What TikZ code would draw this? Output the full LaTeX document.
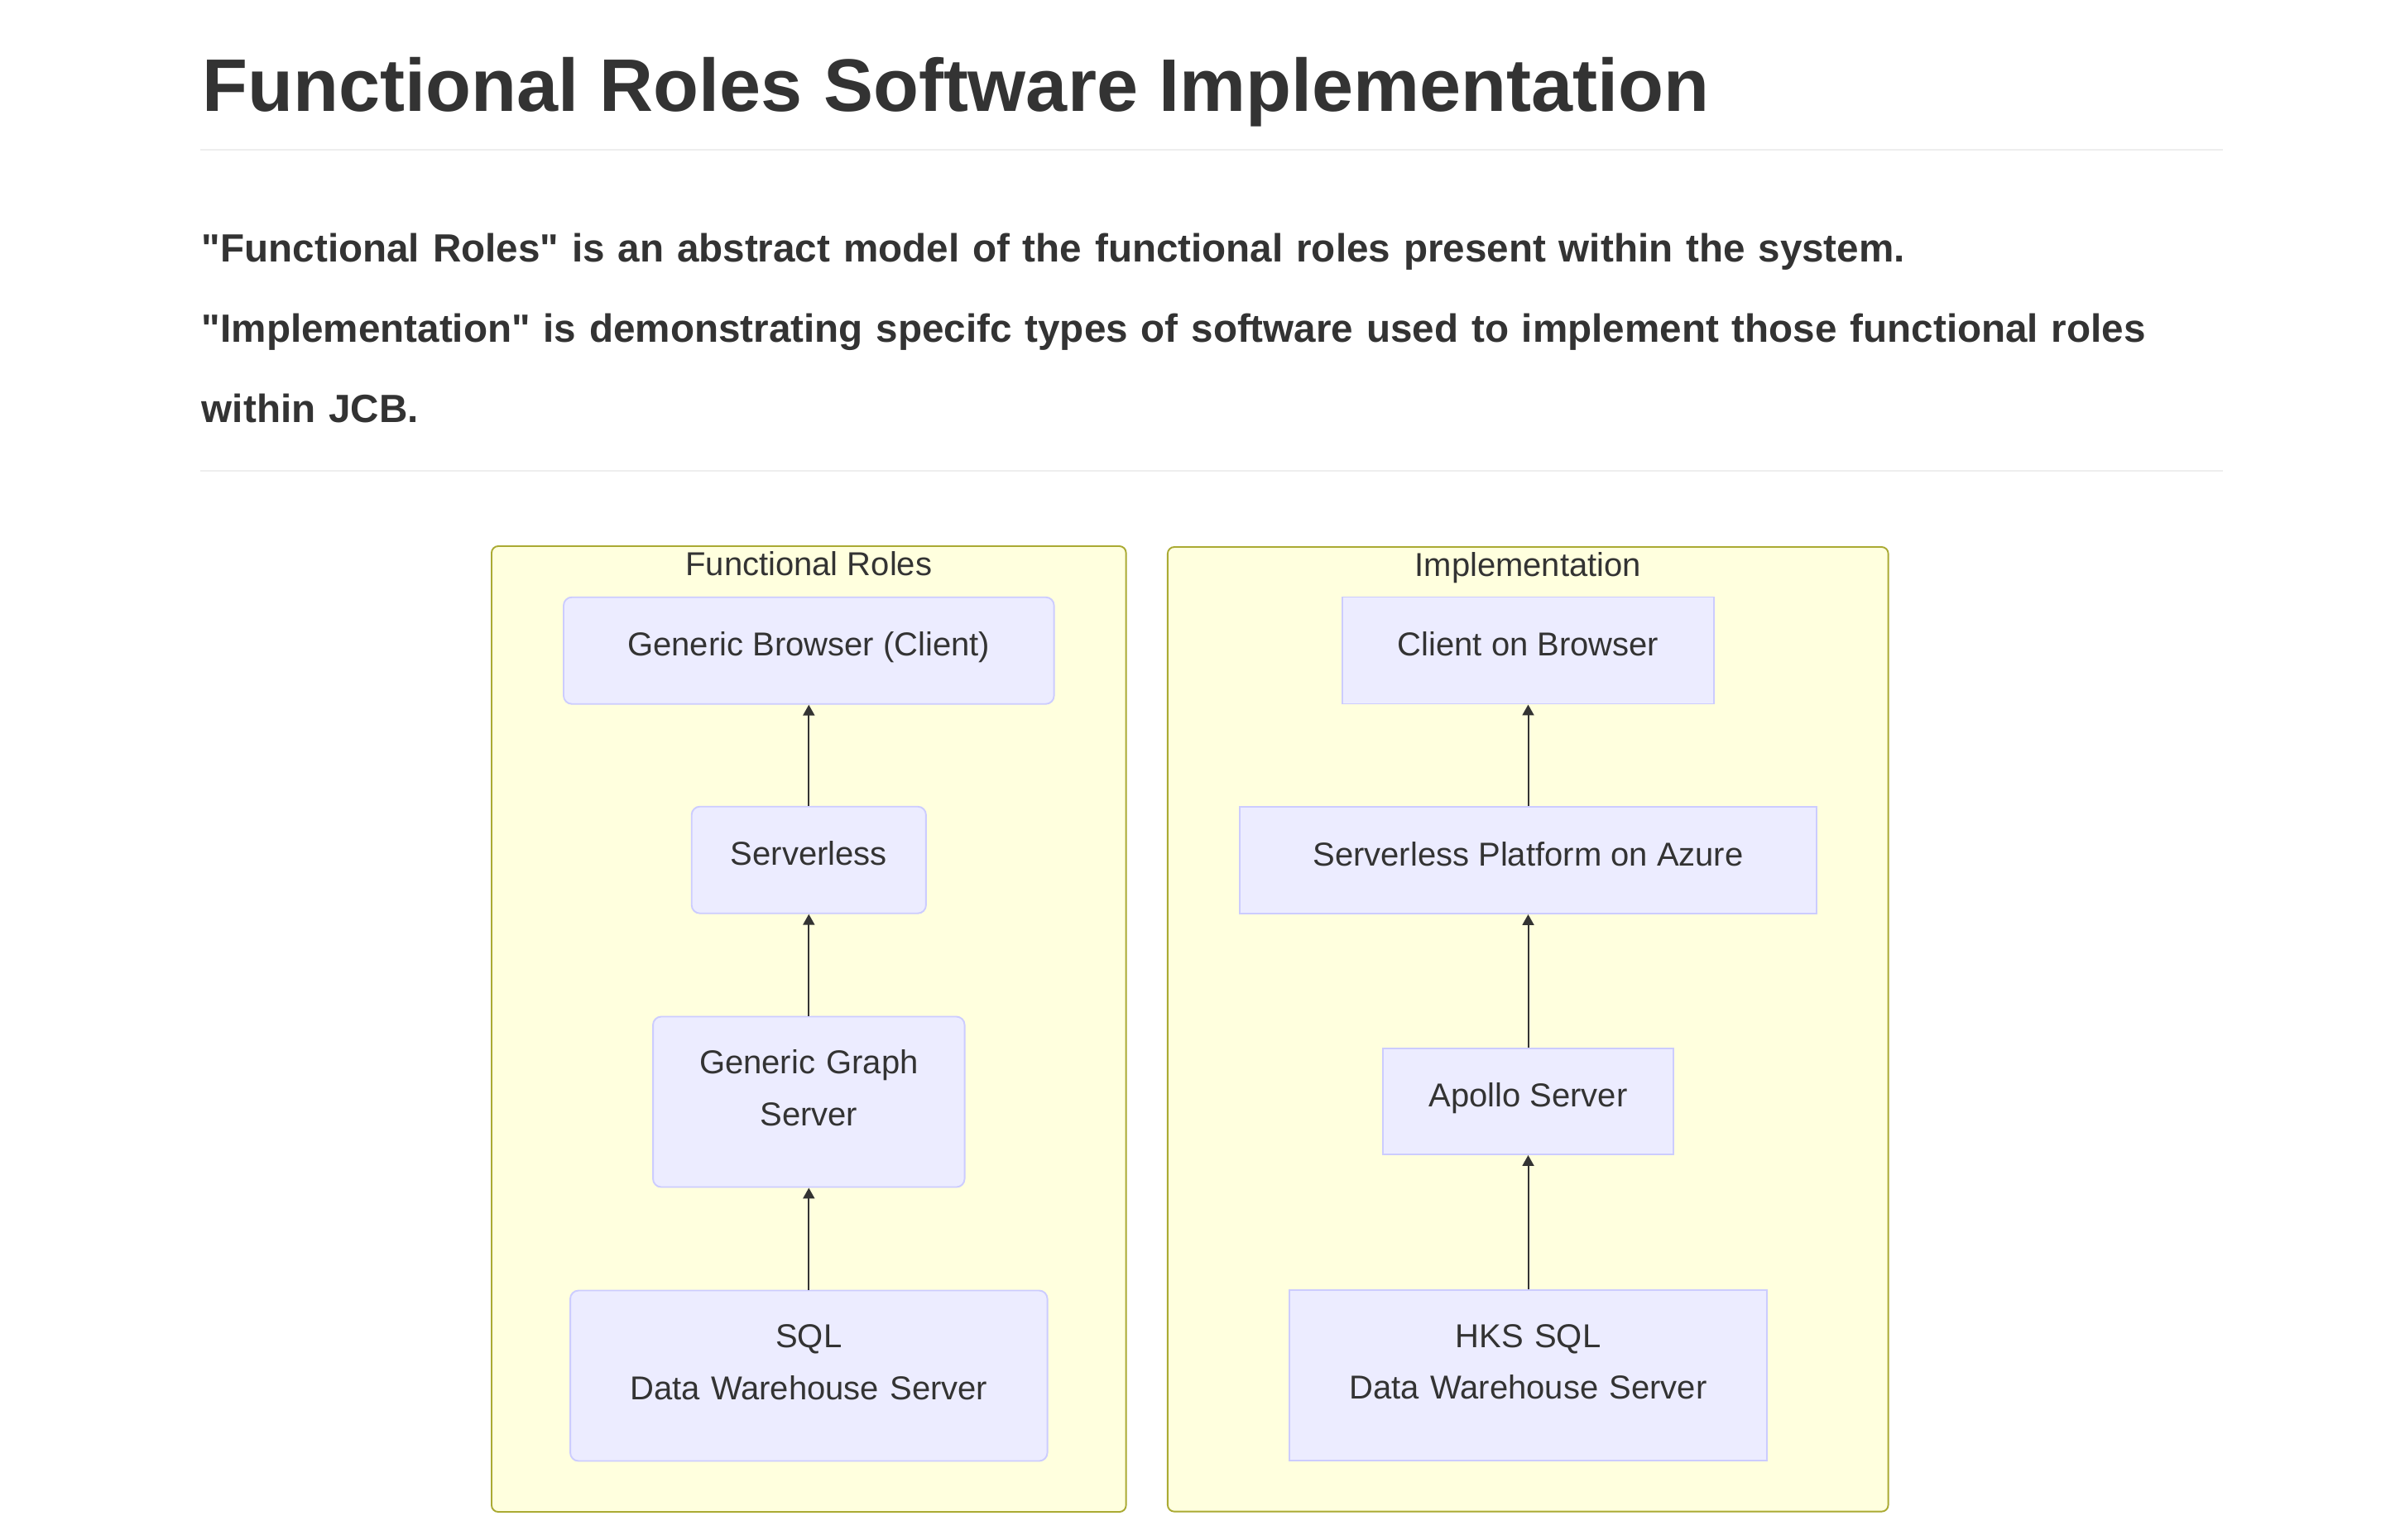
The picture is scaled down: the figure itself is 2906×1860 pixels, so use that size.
\documentclass[tikz,border=0pt]{standalone}
\usepackage{fontspec}
\setmainfont{Liberation Sans}
\usetikzlibrary{arrows.meta}

\definecolor{inkgray}{HTML}{333333}
\definecolor{rulegray}{HTML}{EEEEEE}
\definecolor{groupfill}{HTML}{FFFFDE}
\definecolor{groupdraw}{HTML}{AAAA33}
\definecolor{boxfill}{HTML}{ECECFF}
\definecolor{boxdraw}{HTML}{CCCCFF}

\newcommand{\boxfont}{\fontsize{40}{62.5}\selectfont}

\tikzset{every picture/.style={line width=1.9pt}}
\tikzset{
  group/.style={draw=groupdraw, fill=groupfill, rounded corners=8pt},
  grouplabel/.style={anchor=base, text=inkgray, font=\boxfont, inner sep=0pt},
  rolebox/.style={draw=boxdraw, fill=boxfill, rounded corners=10pt, text=inkgray, font=\boxfont,
    inner sep=0pt, text height=30pt, text depth=17pt},
  implbox/.style={rolebox, sharp corners},
  twoline/.style={align=center, text width=#1, text height=30pt, text depth=98pt, minimum height=206pt},
  flow/.style={draw=inkgray, line width=2pt, -{Triangle[length=13pt,width=14pt]}},
  hrule/.style={draw=rulegray, line width=2pt}
}

\begin{document}
\begin{tikzpicture}[x=1pt,y=1pt,yscale=-1,xscale=1]
	\useasboundingbox[fill=white] (0,0) rectangle (2906,1860);

	% Text Node
	\node[anchor=base west, inner sep=0pt, text=inkgray, font=\fontsize{90}{108}\selectfont\bfseries] (title) at (244,134) {Functional Roles Software Implementation};
	%Straight Lines
	\draw[hrule] (242,181) -- (2686,181);
	% Text Node
	\node[anchor=base west, inner sep=0pt, text=inkgray, align=left, text width=2500pt, font=\fontsize{47.6}{97}\selectfont\bfseries] (intro) at (243,316.7) {\textquotedbl Functional Roles\textquotedbl{} is an abstract model of the functional roles present within the system.\\\textquotedbl Implementation\textquotedbl{} is demonstrating specifc types of software used to implement those functional roles\\within JCB.};
	%Straight Lines
	\draw[hrule] (242,569) -- (2686,569);

	%Shape: Rectangle
	\draw[group] (594,660) rectangle (1360.6,1827);
	%Shape: Rectangle
	\draw[group] (1410.9,661) rectangle (2281.6,1826.6);
	% Text Node
	\node[grouplabel] (rolesname) at (977.3,695) {Functional Roles};
	% Text Node
	\node[grouplabel] (implname) at (1846.3,696) {Implementation};

	% Functional Roles
	\node[rolebox, minimum width=592.6pt, minimum height=129pt] (gbc) at (977.3,786.2) {Generic Browser (Client)};
	\node[rolebox, minimum width=283.2pt, minimum height=129pt] (sls) at (977.3,1039.2) {Serverless};
	\node[rolebox, twoline=340pt, minimum width=376.5pt] (ggs) at (977.3,1331.5) {Generic Graph\\Server};
	\node[rolebox, twoline=500pt, minimum width=576.5pt] (sqlw) at (977.3,1662.5) {SQL\\Data Warehouse Server};

	% Implementation
	\node[implbox, minimum width=448.3pt, minimum height=129pt] (cob) at (1846.5,786) {Client on Browser};
	\node[implbox, minimum width=696.7pt, minimum height=129pt] (spa) at (1846.5,1039.5) {Serverless Platform on Azure};
	\node[implbox, minimum width=350.2pt, minimum height=128pt] (aps) at (1846.5,1331) {Apollo Server};
	\node[implbox, twoline=500pt, minimum width=577.4pt] (hks) at (1846.5,1662) {HKS SQL\\Data Warehouse Server};

	%Straight Lines
	\draw[flow] (sls.north) -- (gbc.south);
	\draw[flow] (ggs.north) -- (sls.south);
	\draw[flow] (sqlw.north) -- (ggs.south);
	\draw[flow] (spa.north) -- (cob.south);
	\draw[flow] (aps.north) -- (spa.south);
	\draw[flow] (hks.north) -- (aps.south);

\end{tikzpicture}
\end{document}
